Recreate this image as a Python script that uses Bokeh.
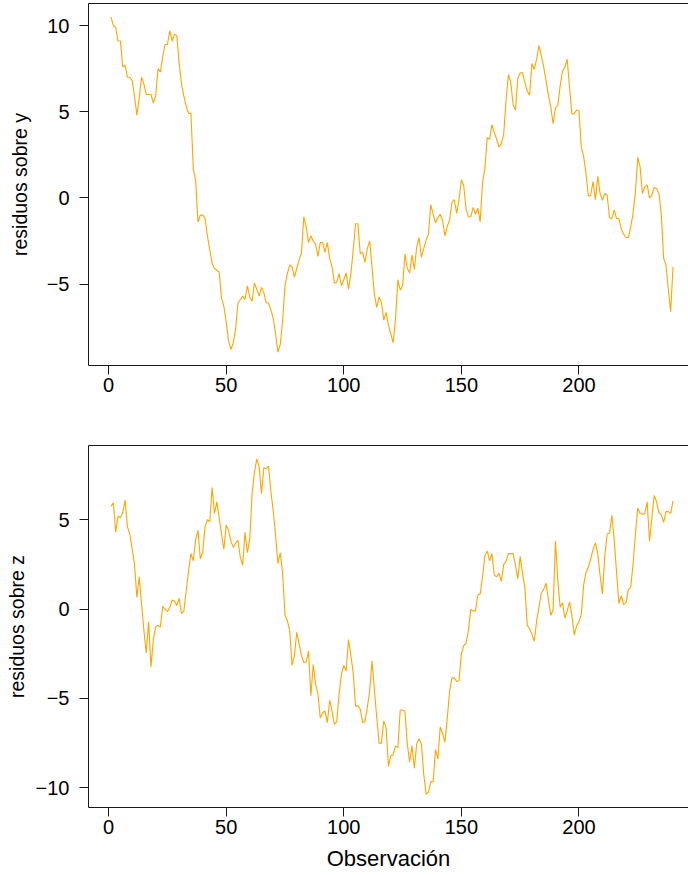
from bokeh.plotting import figure
from bokeh.layouts import column
from bokeh.models import Range1d, FixedTicker, LinearAxis, CustomJSTickFormatter
from bokeh.embed import file_html
from bokeh.resources import INLINE

# ---- data -------------------------------------------------------------
obs = list(range(1, 241))

resid_y = [
    10.5, 10.0, 9.9, 9.1, 9.1, 7.6, 7.7, 7.0, 7.0, 6.8,
    5.9, 4.8, 5.8, 7.0, 6.6, 6.0, 6.0, 6.0, 5.5, 5.9,
    7.5, 7.3, 8.2, 8.9, 8.9, 9.7, 9.1, 9.5, 9.4, 7.8,
    6.6, 5.9, 5.3, 4.9, 4.9, 1.7, 1.0, -1.4, -1.0, -1.0,
    -1.2, -2.2, -3.0, -3.8, -4.1, -4.2, -4.3, -5.8, -6.3, -7.2,
    -8.3, -8.8, -8.4, -7.6, -6.1, -5.9, -5.7, -5.9, -5.1, -5.75,
    -6.0, -4.95, -5.3, -5.7, -5.2, -5.5, -6.1, -6.1, -6.5, -7.0,
    -7.9, -8.95, -8.5, -7.1, -5.1, -4.4, -3.9, -4.0, -4.6, -4.1,
    -3.6, -3.2, -1.1, -1.7, -2.6, -2.2, -2.5, -2.7, -3.4, -2.6,
    -2.6, -3.15, -2.6, -3.5, -4.0, -4.95, -4.9, -4.4, -5.1, -4.75,
    -4.35, -5.3, -4.4, -3.05, -1.5, -1.5, -3.25, -3.15, -3.75, -2.95,
    -2.5, -4.0, -5.6, -6.35, -5.75, -6.05, -7.1, -6.65, -7.4, -7.9,
    -8.4, -7.0, -4.75, -5.35, -5.1, -3.25, -4.1, -4.35, -3.3, -4.15,
    -2.85, -2.3, -3.45, -2.95, -2.45, -2.1, -0.4, -0.95, -1.45, -1.15,
    -0.95, -1.3, -2.2, -1.65, -1.3, -0.25, -0.1, -0.9, -0.1, 1.05,
    0.7, -0.65, -1.1, -1.1, -0.55, -0.95, -0.6, -1.4, 0.9, 1.7,
    3.5, 3.4, 4.25, 3.8, 3.4, 2.95, 3.15, 3.7, 5.65, 7.15,
    6.7, 5.4, 5.1, 6.95, 7.25, 7.25, 6.7, 6.2, 5.95, 7.8,
    7.45, 8.05, 8.85, 8.25, 7.6, 6.8, 5.95, 5.3, 4.3, 5.25,
    5.35, 6.5, 7.35, 7.6, 8.05, 6.4, 4.85, 4.9, 5.1, 5.05,
    2.95, 2.4, 1.4, 0.1, 0.15, 0.95, -0.1, 1.25, 0.25, -0.15,
    0.25, 0.15, -1.15, -1.2, -0.7, -1.2, -1.2, -1.8, -2.1, -2.3,
    -2.3, -1.7, -0.9, 0.35, 2.35, 1.8, 0.25, 0.65, 0.75, 0.0,
    0.15, 0.6, 0.55, 0.25, -0.9, -3.5, -3.9, -5.3, -6.6, -4.0,
]

resid_z = [
    5.75, 5.95, 4.3, 5.2, 5.1, 5.4, 6.1, 4.6, 4.2, 3.35,
    2.5, 0.65, 1.8, 0.3, -1.2, -2.45, -0.7, -3.25, -1.7, -1.0,
    -0.9, -1.0, 0.15, 0.0, -0.15, 0.1, 0.5, 0.45, 0.2, 0.6,
    -0.25, -0.1, 1.05, 2.15, 3.1, 2.7, 3.9, 4.4, 2.8, 3.2,
    4.6, 5.0, 4.9, 6.8, 5.35, 6.0, 5.1, 4.2, 3.35, 4.7,
    4.4, 3.8, 3.45, 3.7, 3.85, 2.9, 2.45, 4.3, 3.15, 3.9,
    6.45, 7.65, 8.4, 7.95, 6.45, 7.9, 7.85, 8.0, 6.55, 5.5,
    4.1, 2.55, 3.15, 1.95, -0.35, -0.65, -1.2, -3.15, -2.6, -1.3,
    -1.95, -2.6, -3.0, -2.95, -2.35, -4.85, -3.1, -4.2, -4.75, -6.1,
    -5.8, -5.7, -6.35, -5.1, -5.7, -6.45, -6.3, -4.75, -3.65, -3.15,
    -3.45, -1.7, -2.6, -3.55, -5.45, -5.4, -5.6, -6.35, -6.3, -5.5,
    -4.6, -2.9, -4.5, -6.05, -7.5, -7.5, -6.25, -6.65, -8.8, -8.2,
    -8.15, -7.65, -7.75, -5.65, -5.65, -5.7, -7.55, -8.55, -7.65, -8.9,
    -7.55, -7.25, -7.55, -9.25, -10.35, -10.25, -9.65, -9.65, -7.85, -8.4,
    -6.6, -6.95, -7.45, -6.1, -4.6, -3.85, -3.85, -4.05, -4.0, -2.5,
    -2.05, -1.9, -1.2, 0.0, -0.1, -0.1, 0.8, 0.85, 1.8, 3.0,
    3.25, 2.7, 3.1, 1.9, 1.8, 2.0, 1.55, 2.5, 2.65, 3.1,
    3.1, 3.1, 2.45, 1.7, 2.95, 2.0, 1.2, -0.9, -1.1, -1.4,
    -1.8, -0.65, 0.1, 0.9, 1.1, 1.45, 0.55, -0.35, -0.05, 3.8,
    1.6, 0.1, 0.35, -0.5, -0.1, 0.4, -0.35, -1.45, -0.95, -0.7,
    -0.3, 1.35, 2.05, 2.35, 2.8, 3.35, 3.7, 3.1, 1.85, 0.85,
    3.0, 4.2, 4.25, 5.25, 3.85, 2.05, 0.3, 0.75, 0.25, 0.35,
    1.1, 1.2, 2.5, 4.2, 5.65, 5.35, 5.3, 5.35, 6.0, 3.8,
    5.1, 6.35, 6.0, 5.4, 5.3, 4.85, 5.45, 5.45, 5.35, 6.05,
]

x_ticks = [0, 50, 100, 150, 200]
y_ticks_top = [-5, 0, 5, 10]
y_ticks_bottom = [-10, -5, 0, 5]
y_label_top = "residuos sobre y"
y_label_bottom = "residuos sobre z"
x_label = "Observación"

# ---- styling ----------------------------------------------------------
FONT = "Liberation Sans"
LINE_COLOR = "#FFA500"
AXIS_COLOR = "#1a1a1a"
PAGE_W = 688
LEFT = 88
FULL_FRAME_W = 607   # width of the complete plotting region; its right end falls off the page


def padded(lo, hi, frac=0.04):
    d = (hi - lo) * frac
    return lo - d, hi + d


x_lo, x_hi = padded(min(obs), max(obs))
x_hi_visible = x_lo + (x_hi - x_lo) * (PAGE_W - LEFT) / FULL_FRAME_W

minus_fmt = CustomJSTickFormatter(code="return tick < 0 ? '\u2212' + (-tick) : '' + tick;")


def style_axis(ax):
    ax.axis_line_color = AXIS_COLOR
    ax.axis_line_width = 1
    ax.major_tick_line_color = AXIS_COLOR
    ax.major_tick_out = 9
    ax.major_tick_in = 0
    ax.minor_tick_out = 0
    ax.minor_tick_in = 0
    ax.major_label_text_font = FONT
    ax.major_label_text_font_size = "20px"
    ax.major_label_text_color = "black"
    ax.axis_label_text_font = FONT
    ax.axis_label_text_font_style = "normal"
    ax.axis_label_text_color = "black"


def make_panel(values, yticks, ylabel, xlabel, height, top, bottom, ylabel_standoff):
    y_lo, y_hi = padded(min(values), max(values))
    p = figure(width=PAGE_W, height=height, output_backend="svg", toolbar_location=None,
               x_range=Range1d(x_lo, x_hi_visible), y_range=Range1d(y_lo, y_hi),
               x_axis_location=None, y_axis_location=None,
               min_border_left=LEFT, min_border_right=0,
               min_border_top=top, min_border_bottom=bottom)
    p.xgrid.visible = False
    p.ygrid.visible = False
    p.outline_line_color = None
    p.background_fill_color = "white"
    p.border_fill_color = "white"

    p.line(obs, values, line_color=LINE_COLOR, line_width=1.1)

    xaxis = LinearAxis(ticker=FixedTicker(ticks=x_ticks), formatter=minus_fmt)
    style_axis(xaxis)
    xaxis.major_label_standoff = 3
    if xlabel:
        xaxis.axis_label = xlabel
        xaxis.axis_label_text_font_size = "22px"
        xaxis.axis_label_standoff = 9
    p.add_layout(xaxis, "below")

    yaxis = LinearAxis(ticker=FixedTicker(ticks=yticks), formatter=minus_fmt)
    style_axis(yaxis)
    yaxis.major_label_standoff = 10
    yaxis.major_label_orientation = "horizontal"
    yaxis.axis_label = ylabel
    yaxis.axis_label_text_font_size = "19.5px"
    yaxis.axis_label_standoff = ylabel_standoff
    p.add_layout(yaxis, "left")

    # upper edge of the box
    top_axis = LinearAxis(ticker=FixedTicker(ticks=[]), major_tick_out=0, major_tick_in=0,
                          minor_tick_out=0, minor_tick_in=0,
                          major_label_text_font_size="0px")
    top_axis.axis_line_color = AXIS_COLOR
    p.add_layout(top_axis, "above")
    return p


p_top = make_panel(resid_y, y_ticks_top, y_label_top, None,
                   height=420, top=3, bottom=55, ylabel_standoff=13)
p_bottom = make_panel(resid_z, y_ticks_bottom, y_label_bottom, x_label,
                      height=454, top=25, bottom=67, ylabel_standoff=5)

layout = column(p_top, p_bottom, spacing=0)
open("out.html", "w").write(file_html(layout, INLINE))
